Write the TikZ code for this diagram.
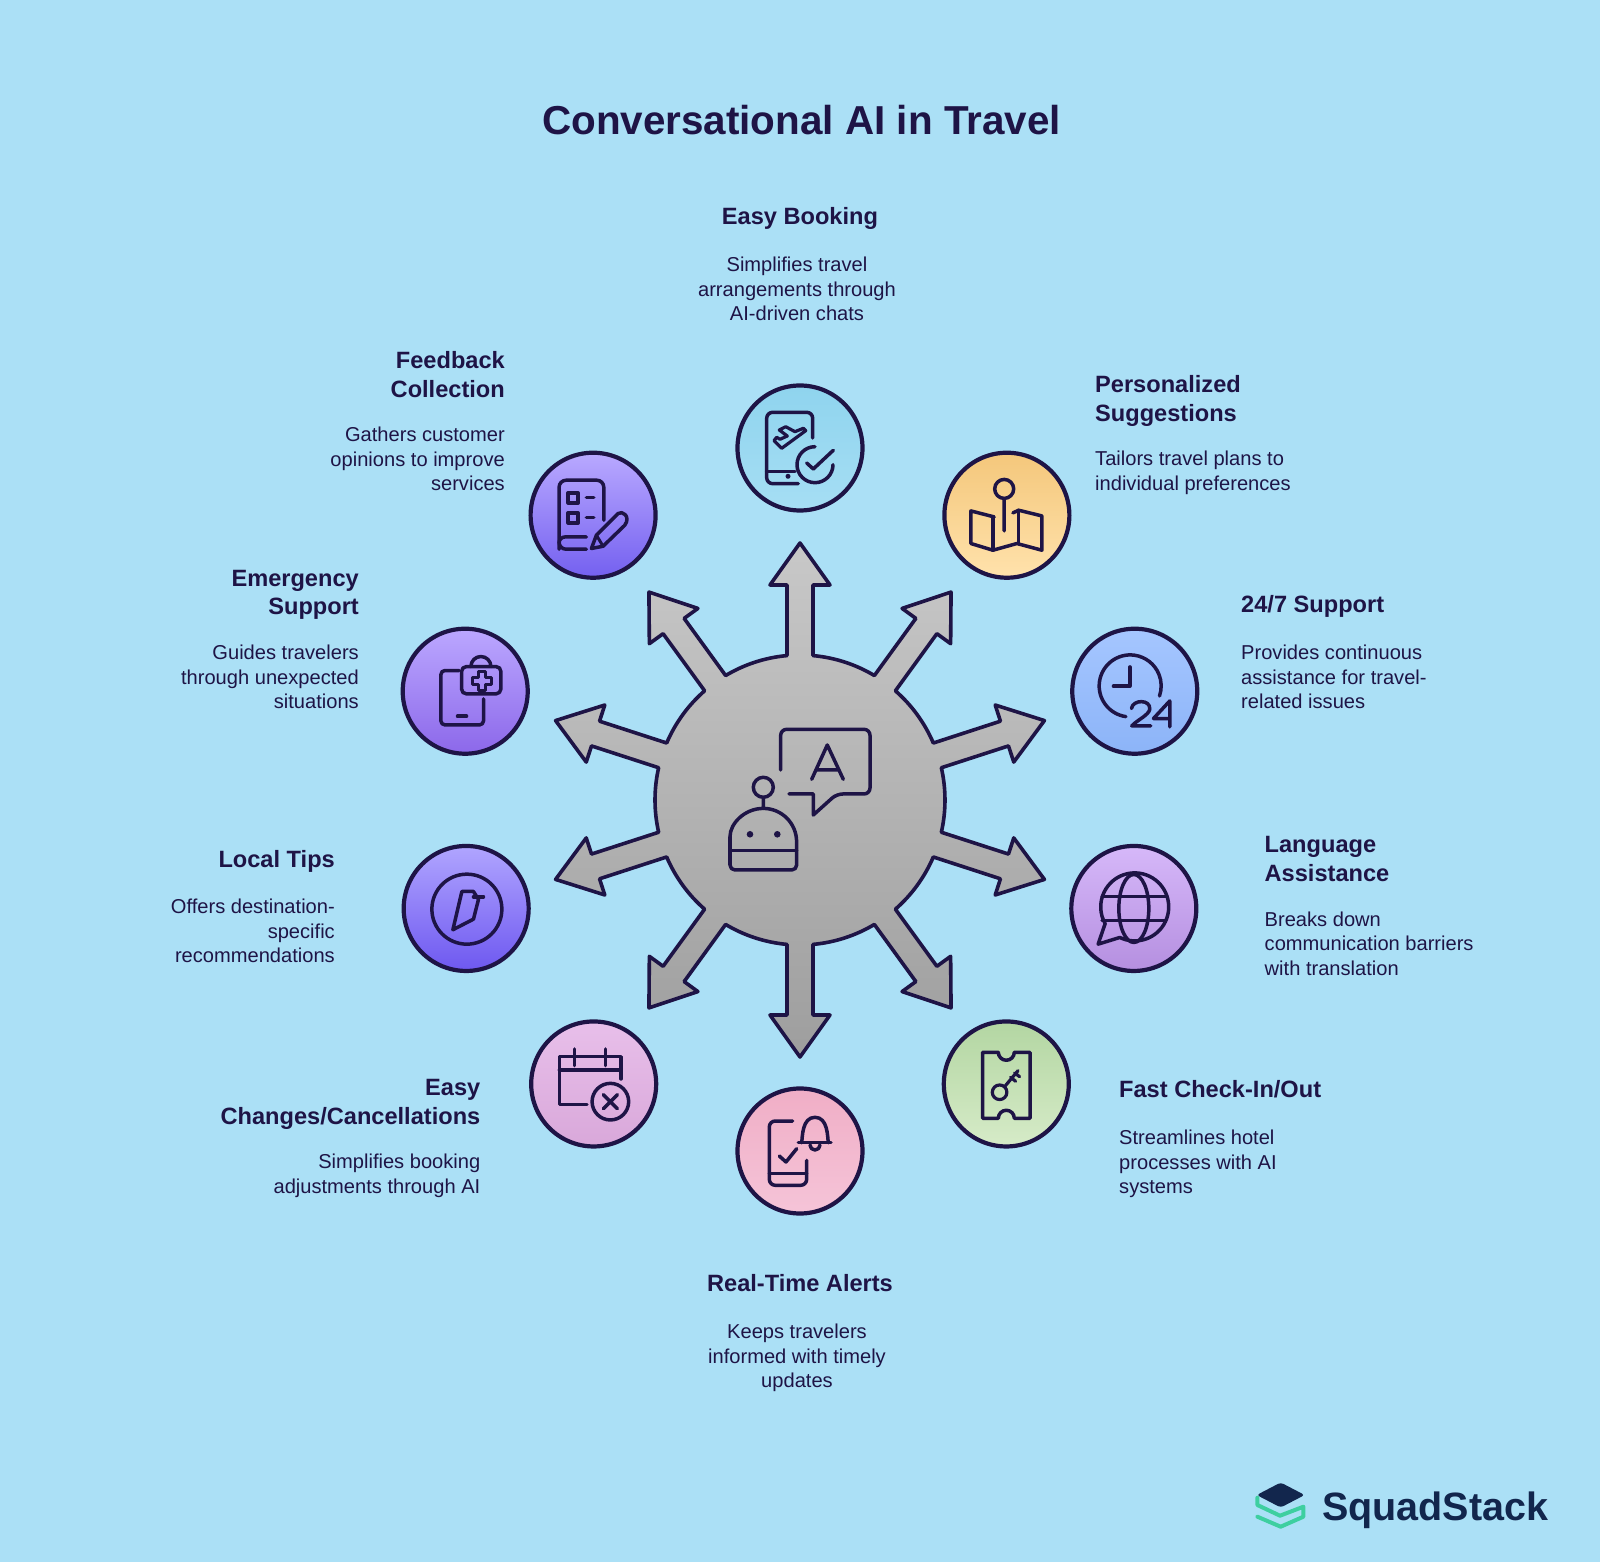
\documentclass[tikz,border=0pt]{standalone}
\usepackage{fontspec}
\setmainfont{Liberation Sans}
\definecolor{skyback}{HTML}{ABE0F6}
\definecolor{ink}{HTML}{1E1446}
\definecolor{logonavy}{HTML}{12264D}
\definecolor{logogreen}{HTML}{3ECFA0}
\definecolor{hubtop}{HTML}{C8C8C8}
\definecolor{hubbot}{HTML}{9E9E9E}
\definecolor{bookingtop}{HTML}{8FD4EE}
\definecolor{bookingbot}{HTML}{A6DEF4}
\definecolor{suggesttop}{HTML}{F4C77B}
\definecolor{suggestbot}{HTML}{FFE2AC}
\definecolor{supporttop}{HTML}{A5C6FF}
\definecolor{supportbot}{HTML}{8CB4F8}
\definecolor{languagetop}{HTML}{D6B8F9}
\definecolor{languagebot}{HTML}{B58FE0}
\definecolor{checkintop}{HTML}{B3D6A2}
\definecolor{checkinbot}{HTML}{D6EBC8}
\definecolor{alertstop}{HTML}{F0AEC6}
\definecolor{alertsbot}{HTML}{F5C4D8}
\definecolor{changestop}{HTML}{E8BFEA}
\definecolor{changesbot}{HTML}{D9A8DA}
\definecolor{tipstop}{HTML}{B0A5FF}
\definecolor{tipsbot}{HTML}{6E58F0}
\definecolor{emergencytop}{HTML}{BBA7FF}
\definecolor{emergencybot}{HTML}{8C68EA}
\definecolor{feedbacktop}{HTML}{B9A9FF}
\definecolor{feedbackbot}{HTML}{7460F0}
\tikzset{
	badge/.style={circle, draw=ink, line width=4.2pt, minimum size=125pt, inner sep=0pt, top color=#1top, bottom color=#1bot},
	headtext/.style={inner sep=0pt, text=ink, font=\bfseries\fontsize{23.6}{28.5}\selectfont, execute at begin node=\strut},
	bodytext/.style={inner sep=0pt, text=ink, font=\fontsize{20.1}{24.4}\selectfont, execute at begin node=\strut},
	iconline/.style={draw=ink, line width=3.5pt, line cap=round, line join=round},
}
\begin{document}
\begin{tikzpicture}[x=1pt, y=1pt]
	\useasboundingbox (-800,-762) rectangle (800,800);
	\fill[skyback] (-800,-762) rectangle (800,800);

	\node[inner sep=0pt, text=ink, font=\bfseries\fontsize{40.4}{46}\selectfont] (title) at (1.5,680) {Conversational AI in Travel};

	\path[draw=ink, line width=3.6pt, line join=round, top color=hubtop, bottom color=hubbot] ([rotate=90]144.4,13)
		\foreach \a in {90,54,18,-18,-54,-90,-126,-162,-198,-234} {
			-- ([rotate=\a]215,13) -- ([rotate=\a]215,30) -- ([rotate=\a]257,0) -- ([rotate=\a]215,-30) -- ([rotate=\a]215,-13) -- ([rotate=\a]144.4,-13)
			arc[start angle=\a-5.14, end angle=\a-30.86, radius=145]
		} -- cycle;

	\node[badge=booking] (booking) at (90:352) {};
	\node[badge=suggest] (suggest) at (54:352) {};
	\node[badge=support] (support) at (18:352) {};
	\node[badge=language] (language) at (-18:351) {};
	\node[badge=checkin] (checkin) at (-54:351) {};
	\node[badge=alerts] (alerts) at (-90:351) {};
	\node[badge=changes] (changes) at (-126:351) {};
	\node[badge=tips] (tips) at (-162:351) {};
	\node[badge=emergency] (emergency) at (162:352) {};
	\node[badge=feedback] (feedback) at (126:352) {};

	\node[headtext, anchor=north] (bookinghead) at (0,596) {Easy Booking};
	\node[bodytext, anchor=north, align=center] (bookingbody) at (-3,543) {Simplifies travel\\arrangements through\\AI-driven chats};
	\node[headtext, anchor=north west, align=left] (suggesthead) at (295,424.5) {Personalized\\Suggestions};
	\node[bodytext, anchor=north west, align=left] (suggestbody) at (295,349) {Tailors travel plans to\\individual preferences};
	\node[headtext, anchor=north west] (supporthead) at (441,207.5) {24/7 Support};
	\node[bodytext, anchor=north west, align=left] (supportbody) at (441,155) {Provides continuous\\assistance for travel-\\related issues};
	\node[headtext, anchor=north west, align=left] (languagehead) at (464.5,-36.5) {Language\\Assistance};
	\node[bodytext, anchor=north west, align=left] (languagebody) at (464.5,-111.5) {Breaks down\\communication barriers\\with translation};
	\node[headtext, anchor=north west] (checkinhead) at (319,-277.5) {Fast Check-In/Out};
	\node[bodytext, anchor=north west, align=left] (checkinbody) at (319,-330) {Streamlines hotel\\processes with AI\\systems};
	\node[headtext, anchor=north] (alertshead) at (0,-471.5) {Real-Time Alerts};
	\node[bodytext, anchor=north, align=center] (alertsbody) at (-3,-524) {Keeps travelers\\informed with timely\\updates};
	\node[headtext, anchor=north east, align=right] (changeshead) at (-319.5,-279.5) {Easy\\Changes/Cancellations};
	\node[bodytext, anchor=north east, align=right] (changesbody) at (-319.5,-354) {Simplifies booking\\adjustments through AI};
	\node[headtext, anchor=north east] (tipshead) at (-465,-47.5) {Local Tips};
	\node[bodytext, anchor=north east, align=right] (tipsbody) at (-465,-99) {Offers destination-\\specific\\recommendations};
	\node[headtext, anchor=north east, align=right] (emergencyhead) at (-441,230) {Emergency\\Support};
	\node[bodytext, anchor=north east, align=right] (emergencybody) at (-441,155) {Guides travelers\\through unexpected\\situations};
	\node[headtext, anchor=north east, align=right] (feedbackhead) at (-295,448.5) {Feedback\\Collection};
	\node[bodytext, anchor=north east, align=right] (feedbackbody) at (-295,373) {Gathers customer\\opinions to improve\\services};

	\draw[iconline] (-19.3,30) [rounded corners=6pt] -- (-19.3,70.7) -- (70,70.7) -- (70,6) -- (36.7,6) [sharp corners] -- (13.3,-15) -- (13.3,6) -- (-11,6);
	\draw[iconline] (11.7,20.7) -- (27.3,55) -- (43.3,20.7) (16.7,30) -- (38.3,30);
	\draw[iconline] (-36.7,12.7) circle (10) (-36.7,2.7) -- (-36.7,-8.3);
	\draw[iconline] (-70,-41.7) arc[start angle=180, end angle=0, radius=33.3] [rounded corners=5pt] -- (-3.3,-70) -- (-70,-70) -- cycle;
	\draw[iconline] (-70,-50.7) -- (-3.3,-50.7);
	\fill[ink] (-50,-34.3) circle (3.3) (-22.7,-34.3) circle (3.3);

	\begin{scope}[shift={(booking)}]
		\draw[iconline] (12.7,10) [rounded corners=6pt] -- (12.7,35.7) -- (-33.3,35.7) -- (-33.3,-35.7) [sharp corners] -- (-1.7,-35.7);
		\draw[iconline] (-33.3,-23.3) -- (-5,-23.3);
		\fill[ink] (-12,-28.3) circle (2.5);
		\draw[iconline, line width=3.2pt] (5.7,17.3) -- (3.3,19.7) -- (-5,16.3) -- (-14.3,21.3) -- (-20.7,18) -- (-12.7,12) -- (-20,8.7) -- (-23.3,10.7) -- (-26,7.3) -- (-18.3,-0.3) -- cycle;
		\draw[iconline] (15,1.3) arc[start angle=90, end angle=360, radius=18];
		\draw[iconline] (6.7,-15) -- (13.3,-21) -- (33.3,-2.3);
	\end{scope}

	\begin{scope}[shift={(suggest)}]
		\draw[iconline] (-2.7,26.3) circle (9.5) (-2.7,16.7) -- (-2.7,-15.7);
		\draw[iconline] (-12.7,-1.7) -- (-36,4.3) -- (-36,-28.3) -- (-14,-35) -- (10,-28.3) -- (35,-35) -- (35,-0.7) -- (11.7,5) -- (6,2.3);
		\draw[iconline] (-14,-1.7) -- (-14,-35) (11.7,5) -- (11.7,-28.3);
	\end{scope}

	\begin{scope}[shift={(support)}]
		\draw[iconline] (-8.9,-25.4) arc[start angle=262, end angle=-19, radius=31];
		\draw[iconline] (-5,24.3) -- (-5,5) -- (-21.3,5);
		\draw[iconline] (-3.3,-17.3) .. controls (-2,-8) and (16,-8) .. (15,-18) .. controls (14,-24) and (2,-29) .. (-3,-34.7) -- (16,-34.7);
		\draw[iconline] (35,-35.7) -- (35,-9.7) -- (18.7,-27.3) -- (35,-27.3);
	\end{scope}

	\begin{scope}[shift={(language)}]
		\draw[iconline] (-14,-29) arc[start angle=244, end angle=569.5, radius=34] -- (-35.7,-35.7) -- cycle;
		\draw[iconline] (0,0) ellipse (15 and 34);
		\draw[iconline] (-31.8,12) -- (31.8,12) (-31.8,-12) -- (31.8,-12);
	\end{scope}

	\begin{scope}[shift={(checkin)}]
		\draw[iconline] (-8,31.7) arc[start angle=180, end angle=360, radius=8] -- (23.7,31.7) -- (23.7,-34.3) -- (8,-34.3) arc[start angle=0, end angle=180, radius=8] -- (-23.7,-34.3) -- (-23.7,31.7) -- cycle;
		\draw[iconline, line width=3.2pt] (-6.7,-8.3) circle (7.3) (-1.7,-2.7) -- (11.7,13.3) (4.3,6.7) -- (9.3,2.7) (8.3,11) -- (13.3,7.3);
	\end{scope}

	\begin{scope}[shift={(alerts)}]
		\draw[iconline] (-7.3,30) [rounded corners=6pt] -- (-30.7,30) -- (-30.7,-34.3) -- (6.7,-34.3) [sharp corners] -- (6.7,-9.3);
		\draw[iconline] (-30.7,-22.7) -- (6.7,-22.7);
		\draw[iconline] (-20.7,-5) -- (-14,-11) -- (-3.3,2.3);
		\draw[iconline] (1.7,8.3) .. controls (2.5,14) and (2,33.7) .. (15,33.7) .. controls (28,33.7) and (27.5,14) .. (28.3,8.3);
		\draw[iconline] (-1.7,8.3) -- (31,8.3);
		\draw[iconline] (10,6) arc[start angle=180, end angle=360, radius=5];
	\end{scope}

	\begin{scope}[shift={(changes)}]
		\draw[iconline] (27.3,5) -- (27.3,27.3) -- (-34.3,27.3) -- (-34.3,-20.7) -- (-6.7,-20.7);
		\draw[iconline] (-34.3,14) -- (27.3,14);
		\draw[iconline] (-19.3,35) -- (-19.3,18.3) (11.7,35) -- (11.7,18.3);
		\draw[iconline] (16.7,-17.7) circle (18.3);
		\draw[iconline] (9.7,-10.7) -- (23.7,-24.7) (9.7,-24.7) -- (23.7,-10.7);
	\end{scope}

	\begin{scope}[shift={(tips)}]
		\draw[iconline] (0.7,-0.7) circle (35);
		\draw[iconline] (-13.3,-21.3) -- (-4.3,17) -- (7.3,17) -- (12.3,9) -- (7.3,-10.7) -- cycle;
		\draw[iconline] (7.3,11.7) -- (17.3,11.7);
	\end{scope}

	\begin{scope}[shift={(emergency)}]
		\draw[iconline] (-6,20.7) [rounded corners=4pt] -- (-24.3,20.7) -- (-24.3,-33.7) -- (18.3,-33.7) [sharp corners] -- (18.3,-7.7);
		\draw[iconline] (-7.7,-25) -- (1.3,-25);
		\draw[iconline, rounded corners=5pt] (-3.7,-2.7) rectangle (35.7,24.7);
		\draw[iconline] (5.7,24.7) arc[start angle=180, end angle=0, radius=10];
		\draw[iconline, line width=3pt] (12.8,20.2) -- (19.8,20.2) -- (19.8,14.2) -- (25.8,14.2) -- (25.8,7.2) -- (19.8,7.2) -- (19.8,1.2) -- (12.8,1.2) -- (12.8,7.2) -- (6.8,7.2) -- (6.8,14.2) -- (12.8,14.2) -- cycle;
	\end{scope}

	\begin{scope}[shift={(feedback)}]
		\draw[iconline] (10.7,-5) [rounded corners=7pt] -- (10.7,35) -- (-34,35) -- (-34,-34) -- (-6.7,-34);
		\draw[iconline, rounded corners=6pt] (-6.7,-21.7) -- (-34,-21.7) -- (-34,-34);
		\draw[iconline] (-25,12.3) rectangle (-15,22.3) (-25,-7.7) rectangle (-15,2.3);
		\draw[iconline] (-6.7,17.7) -- (0.7,17.7) (-6.7,-2.3) -- (0.7,-2.3);
		\draw[iconline] (-1.7,-33.3) -- (3.3,-20) -- (25,1.7) .. controls (29,5) and (38,-1) .. (31.7,-10) -- (10,-31) -- cycle;
		\draw[iconline, line width=3pt] (3.3,-20) -- (10,-31);
	\end{scope}

	\coordinate (logo) at (480.7,-695);
	\draw[logogreen, line width=4pt, line join=round, line cap=round] ([shift={(-23.3,-2.7)}]logo) -- ([shift={(-23.3,-10)}]logo) -- ([shift={(-0.7,-20.7)}]logo) -- ([shift={(22.7,-11.7)}]logo) -- ([shift={(22.7,-21.7)}]logo) -- ([shift={(0,-31.7)}]logo) -- ([shift={(-23.3,-21.7)}]logo);
	\fill[logonavy, rounded corners=3pt] ([shift={(-24,0)}]logo) -- ([shift={(0,12.5)}]logo) -- ([shift={(24,0)}]logo) -- ([shift={(0,-12.5)}]logo) -- cycle;
	\node[inner sep=0pt, anchor=base west, text=logonavy, font=\bfseries\fontsize{39.5}{45}\selectfont] (logotext) at (522,-720) {SquadStack};
\end{tikzpicture}
\end{document}
